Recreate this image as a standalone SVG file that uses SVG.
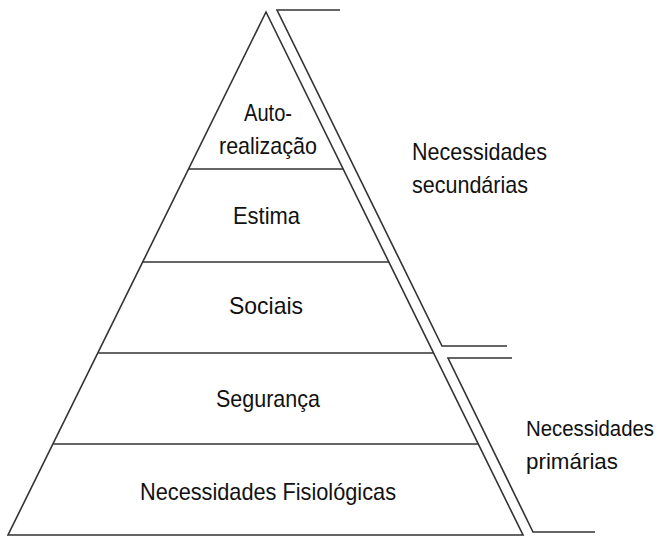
<svg xmlns="http://www.w3.org/2000/svg" width="663" height="537" viewBox="0 0 663 537">
  <style>
    .ln { fill: none; stroke: #333; stroke-width: 1.6; stroke-linejoin: miter; }
    .t { font-family: "Liberation Sans", Arial, sans-serif; font-size: 24px; fill: #111; }
    .s { font-size: 22px; }
  </style>
  <rect width="663" height="537" fill="#fff"/>

  <!-- pyramid outline and level dividers -->
  <g id="pyramid">
    <polygon class="ln" points="266,12 8,535 523,535"/>
    <line class="ln" x1="188.6" y1="169" x2="343.4" y2="169"/>
    <line class="ln" x1="143" y1="262" x2="389" y2="262"/>
    <line class="ln" x1="98.3" y1="353" x2="433.7" y2="353"/>
    <line class="ln" x1="53.4" y1="444" x2="478.6" y2="444"/>
  </g>

  <g id="level-auto-realizacao">
    <text class="t" x="244" y="121" textLength="48" lengthAdjust="spacingAndGlyphs">Auto-</text>
    <text class="t" x="219" y="154" textLength="98" lengthAdjust="spacingAndGlyphs">realização</text>
  </g>
  <g id="level-estima">
    <text class="t" x="233" y="224" textLength="67" lengthAdjust="spacingAndGlyphs">Estima</text>
  </g>
  <g id="level-sociais">
    <text class="t" x="229" y="314" textLength="74" lengthAdjust="spacingAndGlyphs">Sociais</text>
  </g>
  <g id="level-seguranca">
    <text class="t" x="216" y="407" textLength="104" lengthAdjust="spacingAndGlyphs">Segurança</text>
  </g>
  <g id="level-fisiologicas">
    <text class="t" x="140" y="500" textLength="256" lengthAdjust="spacingAndGlyphs">Necessidades Fisiológicas</text>
  </g>

  <!-- grouping brackets -->
  <g id="connectors">
    <polyline class="ln" points="340,10 277,10 442,346 507,346"/>
    <polyline class="ln" points="512,358 448,358 533,532 595,532"/>
  </g>

  <g id="label-secundarias">
    <text class="t" x="412" y="160" textLength="135" lengthAdjust="spacingAndGlyphs">Necessidades</text>
    <text class="t" x="412" y="193" textLength="116" lengthAdjust="spacingAndGlyphs">secundárias</text>
  </g>
  <g id="label-primarias">
    <text class="t s" x="526" y="436" textLength="128" lengthAdjust="spacingAndGlyphs">Necessidades</text>
    <text class="t s" x="526" y="469" textLength="92" lengthAdjust="spacingAndGlyphs">primárias</text>
  </g>
</svg>
